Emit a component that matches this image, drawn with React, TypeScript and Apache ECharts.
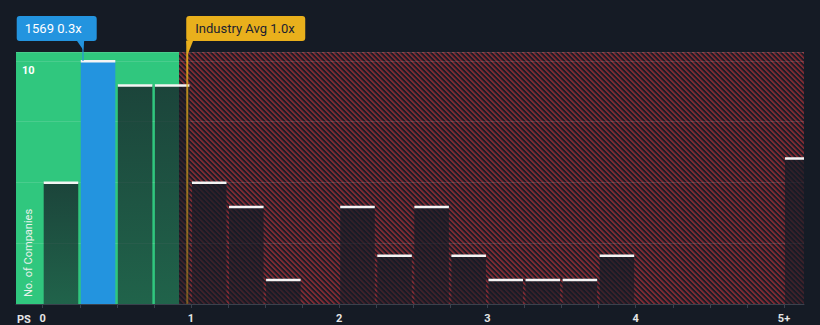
import React, { useEffect, useRef } from "react";
import * as echarts from "echarts";

// ---- data ----
const binStarts = [0, 0.25, 0.5, 0.75, 1, 1.25, 1.5, 1.75, 2, 2.25, 2.5, 2.75, 3, 3.25, 3.5, 3.75, 4, 4.25, 4.5, 4.75, 5];
const binEnds = [0.25, 0.5, 0.75, 1, 1.25, 1.5, 1.75, 2, 2.25, 2.5, 2.75, 3, 3.25, 3.5, 3.75, 4, 4.25, 4.5, 4.75, 5, 5.25];
const counts = [5, 10, 9, 9, 5, 4, 1, 0, 4, 2, 4, 2, 1, 1, 1, 2, 0, 0, 0, 0, 6];
const highlightIndex = 1;
const xTickValues = [0, 0.25, 0.5, 0.75, 1, 1.25, 1.5, 1.75, 2, 2.25, 2.5, 2.75, 3, 3.25, 3.5, 3.75, 4, 4.25, 4.5, 4.75, 5];
const xLabelValues = [0, 1, 2, 3, 4, 5];
const yLabelValues = [10];
const companyValue = 0.27;
const companyLabel = "1569 0.3x";
const industryAvg = 0.975;
const industryLabel = "Industry Avg 1.0x";
const fairLimit = 0.92;
const xMin = -0.18;
const xMax = 5.135;
const yMax = 10.37;

const BG = "#151b25";
const GREEN = "#30c77e";
const BLUE = "#2394df";
const YELLOW = "#e9b01c";

function makeHatch(): string {
  const n = 5;
  const c = document.createElement("canvas");
  c.width = n;
  c.height = n;
  const ctx = c.getContext("2d")!;
  ctx.fillStyle = "#1d1d27";
  ctx.fillRect(0, 0, n, n);
  for (let y = 0; y < n; y++) {
    for (let x = 0; x < n; x++) {
      const d = (((x - y) % n) + n) % n;
      if (d < 2) {
        ctx.fillStyle = "#7c2a33";
        ctx.fillRect(x, y, 1, 1);
      } else if (d === 2) {
        ctx.fillStyle = "#4a232c";
        ctx.fillRect(x, y, 1, 1);
      }
    }
  }
  return c.toDataURL();
}

export default function App() {
  const ref = useRef<HTMLDivElement>(null);
  useEffect(() => {
    document.body.style.margin = "0";
    const chart = echarts.init(ref.current!, null, { renderer: "svg" });
    const hatch = makeHatch();
    const barData = binStarts.map((s, i) => [s, binEnds[i], counts[i]]);

    chart.setOption({
      animation: false,
      backgroundColor: BG,
      textStyle: { fontFamily: "Roboto" },
      grid: { left: 16, right: 16, top: 52, bottom: 21 },
      xAxis: {
        type: "value",
        min: xMin,
        max: xMax,
        z: 2,
        splitLine: { show: false },
        axisLine: { lineStyle: { color: "#3a414d", width: 1 } },
        axisTick: { show: true, customValues: xTickValues, length: 4, lineStyle: { color: "#3a414d" } },
        axisLabel: {
          customValues: xLabelValues,
          formatter: (v: number) => (v === 5 ? "5+" : String(v)),
          color: "#e6e6e6",
          fontSize: 11,
          fontWeight: "bold",
          margin: 9,
        },
      },
      yAxis: {
        type: "value",
        min: 0,
        max: yMax,
        interval: 2.5,
        z: 2,
        axisLine: { show: false },
        axisTick: { show: false },
        splitLine: { lineStyle: { color: "rgba(255,255,255,0.12)", width: 1 } },
        axisLabel: {
          inside: true,
          customValues: yLabelValues,
          color: "#ffffff",
          fontSize: 11,
          fontWeight: "bold",
          verticalAlign: "top",
          margin: 6,
          padding: [4, 0, 0, 0],
        },
      },
      series: [
        {
          type: "line",
          z: 1,
          data: [[0, 0]],
          symbol: "none",
          lineStyle: { opacity: 0 },
          silent: true,
          markArea: {
            silent: true,
            data: [
              [{ xAxis: xMin, itemStyle: { color: GREEN } }, { xAxis: fairLimit }],
              [
                {
                  xAxis: fairLimit,
                  itemStyle: { color: { image: hatch, repeat: "repeat", imageWidth: 5, imageHeight: 5 } },
                },
                { xAxis: xMax },
              ],
            ],
          },
        },
        {
          type: "custom",
          z: 3,
          clip: true,
          data: barData,
          renderItem: (params: any, api: any) => {
            const s = api.value(0);
            const e = api.value(1);
            const v = api.value(2);
            if (!v) return null;
            const p0 = api.coord([s, v]);
            const p1 = api.coord([e, 0]);
            const x = p0[0] + 1;
            const w = p1[0] - p0[0] - 2.5;
            const top = p0[1];
            const h = p1[1] - p0[1];
            const isHi = params.dataIndex === highlightIndex;
            const fill = isHi
              ? BLUE
              : new echarts.graphic.LinearGradient(0, 0, 0, 1, [
                  { offset: 0, color: "rgba(21,27,37,0.76)" },
                  { offset: 1, color: "rgba(21,27,37,0.58)" },
                ]);
            return {
              type: "group",
              children: [
                { type: "rect", shape: { x, y: top, width: w, height: h }, style: { fill } },
                { type: "rect", shape: { x, y: top - 1, width: w, height: 2.5 }, style: { fill: "#f4f4f4" } },
              ],
            };
          },
        },
      ],
    });

    const bx = chart.convertToPixel({ xAxisIndex: 0 }, companyValue) as number;
    const ax = chart.convertToPixel({ xAxisIndex: 0 }, industryAvg) as number;
    const barTop = chart.convertToPixel({ yAxisIndex: 0 }, counts[highlightIndex]) as number;
    const baseY = chart.convertToPixel({ yAxisIndex: 0 }, 0) as number;
    const boxTop = 16;
    const boxBottom = 41;

    chart.setOption({
      graphic: [
        // company marker
        {
          type: "rect",
          z: 10,
          shape: { x: bx - 66, y: boxTop, width: 80, height: boxBottom - boxTop, r: 3 },
          style: { fill: BLUE },
        },
        {
          type: "polygon",
          z: 10,
          shape: { points: [[bx - 6, boxBottom - 0.5], [bx + 1.5, boxBottom - 0.5], [bx + 0.5, 50]] },
          style: { fill: BLUE },
        },
        {
          type: "rect",
          z: 10,
          shape: { x: bx - 0.5, y: boxBottom, width: 1.5, height: barTop - boxBottom },
          style: { fill: "rgba(35,148,223,0.75)" },
        },
        {
          type: "text",
          z: 11,
          x: bx - 58,
          y: (boxTop + boxBottom) / 2,
          style: { text: companyLabel, fill: "#ffffff", fontSize: 13, fontFamily: "Roboto", verticalAlign: "middle", align: "left" },
        },
        // industry marker
        {
          type: "rect",
          z: 10,
          shape: { x: ax - 1, y: boxTop, width: 119, height: boxBottom - boxTop, r: 3 },
          style: { fill: YELLOW },
        },
        {
          type: "polygon",
          z: 10,
          shape: { points: [[ax - 1, boxBottom - 0.5], [ax + 6, boxBottom - 0.5], [ax + 1, 53]] },
          style: { fill: YELLOW },
        },
        {
          type: "rect",
          z: 10,
          shape: { x: ax - 1, y: boxBottom, width: 2, height: baseY - boxBottom },
          style: {
            fill: new echarts.graphic.LinearGradient(0, 0, 0, 1, [
              { offset: 0, color: "rgba(233,176,28,1)" },
              { offset: 0.15, color: "rgba(233,176,28,0.75)" },
              { offset: 1, color: "rgba(233,176,28,0.4)" },
            ]),
          },
        },
        {
          type: "text",
          z: 11,
          x: ax + 8,
          y: (boxTop + boxBottom) / 2,
          style: { text: industryLabel, fill: "#1b2230", fontSize: 13, fontFamily: "Roboto", verticalAlign: "middle", align: "left" },
        },
        // axis titles
        {
          type: "text",
          z: 11,
          x: 17,
          y: 319,
          style: { text: "PS", fill: "#e6e6e6", fontSize: 11, fontWeight: "bold", fontFamily: "Roboto", verticalAlign: "middle" },
        },
        {
          type: "text",
          z: 11,
          x: 28,
          y: 297,
          rotation: Math.PI / 2,
          style: { text: "No. of Companies", fill: "#e8f2ec", fontSize: 11, fontFamily: "Roboto", verticalAlign: "middle", align: "left" },
        },
      ],
    });

    return () => chart.dispose();
  }, []);

  return <div ref={ref} style={{ position: "fixed", left: 0, top: 0, width: 820, height: 325 }} />;
}
